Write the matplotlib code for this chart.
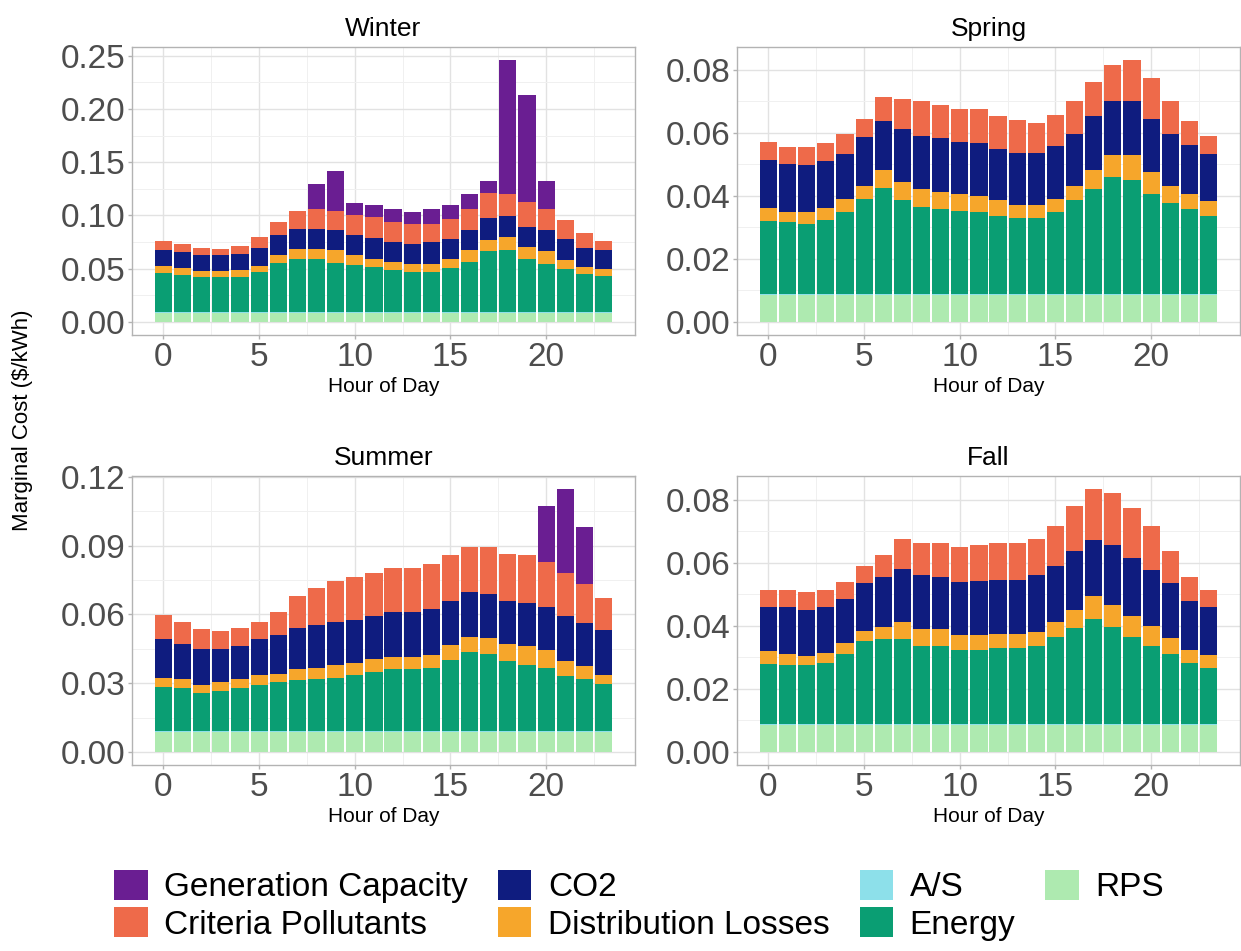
import numpy as np
from matplotlib import pyplot as plt
from matplotlib.patches import Patch
from matplotlib.ticker import MultipleLocator, FormatStrFormatter

plt.rcParams['font.family'] = ['Liberation Sans', 'DejaVu Sans']

hours = np.arange(24)

# marginal cost components ($/kWh), hour 0..23
rps = [0.0085, 0.0085, 0.0085, 0.0085, 0.0085, 0.0085, 0.0085, 0.0085, 0.0085, 0.0085, 0.0085, 0.0085,
       0.0085, 0.0085, 0.0085, 0.0085, 0.0085, 0.0085, 0.0085, 0.0085, 0.0085, 0.0085, 0.0085, 0.0085]
a_s = [0.0004, 0.0004, 0.0004, 0.0004, 0.0004, 0.0004, 0.0004, 0.0004, 0.0004, 0.0004, 0.0004, 0.0004,
       0.0004, 0.0004, 0.0004, 0.0004, 0.0004, 0.0004, 0.0004, 0.0004, 0.0004, 0.0004, 0.0004, 0.0004]
no_cap = [0.0, 0.0, 0.0, 0.0, 0.0, 0.0, 0.0, 0.0, 0.0, 0.0, 0.0, 0.0,
          0.0, 0.0, 0.0, 0.0, 0.0, 0.0, 0.0, 0.0, 0.0, 0.0, 0.0, 0.0]

winter_energy = [0.0368, 0.0352, 0.0336, 0.0331, 0.0331, 0.0384, 0.0466, 0.0504, 0.0504, 0.0466, 0.0447, 0.0425,
                 0.0402, 0.0384, 0.0384, 0.0421, 0.0472, 0.0573, 0.0591, 0.0504, 0.0456, 0.0409, 0.0362, 0.0340]
winter_dist = [0.0066, 0.0064, 0.0057, 0.0060, 0.0065, 0.0056, 0.0069, 0.0094, 0.0094, 0.0125, 0.0094, 0.0079,
               0.0076, 0.0072, 0.0072, 0.0083, 0.0110, 0.0110, 0.0117, 0.0110, 0.0117, 0.0079, 0.0063, 0.0069]
winter_co2 = [0.0157, 0.0151, 0.0148, 0.0150, 0.0151, 0.0168, 0.0189, 0.0189, 0.0189, 0.0180, 0.0183, 0.0197,
              0.0183, 0.0189, 0.0205, 0.0182, 0.0189, 0.0205, 0.0199, 0.0189, 0.0198, 0.0198, 0.0180, 0.0180]
winter_crit = [0.0080, 0.0078, 0.0064, 0.0058, 0.0076, 0.0100, 0.0127, 0.0164, 0.0183, 0.0183, 0.0189, 0.0193,
               0.0190, 0.0189, 0.0173, 0.0189, 0.0205, 0.0230, 0.0205, 0.0236, 0.0205, 0.0180, 0.0141, 0.0078]
winter_cap = [0.0, 0.0, 0.0, 0.0, 0.0, 0.0, 0.0, 0.0, 0.0241, 0.0377, 0.0118, 0.0114,
              0.0119, 0.0111, 0.0136, 0.0133, 0.0135, 0.0113, 0.1259, 0.1008, 0.0255, 0.0, 0.0, 0.0]

spring_energy = [0.0232, 0.0227, 0.0222, 0.0235, 0.0261, 0.0301, 0.0335, 0.0299, 0.0275, 0.0269, 0.0264, 0.0261,
                 0.0248, 0.0241, 0.0241, 0.0261, 0.0296, 0.0333, 0.0370, 0.0362, 0.0315, 0.0288, 0.0269, 0.0248]
spring_dist = [0.0040, 0.0034, 0.0039, 0.0037, 0.0040, 0.0042, 0.0056, 0.0057, 0.0056, 0.0055, 0.0053, 0.0049,
               0.0048, 0.0041, 0.0041, 0.0040, 0.0047, 0.0058, 0.0071, 0.0079, 0.0071, 0.0055, 0.0048, 0.0046]
spring_co2 = [0.0153, 0.0151, 0.0146, 0.0148, 0.0143, 0.0154, 0.0157, 0.0168, 0.0169, 0.0170, 0.0164, 0.0169,
              0.0164, 0.0164, 0.0164, 0.0168, 0.0165, 0.0173, 0.0169, 0.0169, 0.0169, 0.0165, 0.0156, 0.0150]
spring_crit = [0.0056, 0.0053, 0.0058, 0.0059, 0.0064, 0.0058, 0.0076, 0.0093, 0.0110, 0.0104, 0.0104, 0.0106,
               0.0104, 0.0104, 0.0097, 0.0099, 0.0102, 0.0108, 0.0117, 0.0131, 0.0130, 0.0102, 0.0075, 0.0056]

summer_energy = [0.0195, 0.0188, 0.0170, 0.0177, 0.0188, 0.0205, 0.0214, 0.0224, 0.0227, 0.0234, 0.0246, 0.0260,
                 0.0271, 0.0271, 0.0279, 0.0311, 0.0345, 0.0338, 0.0308, 0.0292, 0.0278, 0.0243, 0.0227, 0.0207]
summer_dist = [0.0039, 0.0039, 0.0035, 0.0037, 0.0039, 0.0041, 0.0039, 0.0047, 0.0052, 0.0056, 0.0051, 0.0056,
               0.0055, 0.0055, 0.0057, 0.0066, 0.0068, 0.0071, 0.0073, 0.0081, 0.0077, 0.0065, 0.0060, 0.0039]
summer_co2 = [0.0169, 0.0157, 0.0157, 0.0148, 0.0147, 0.0157, 0.0168, 0.0179, 0.0188, 0.0189, 0.0189, 0.0189,
              0.0197, 0.0197, 0.0197, 0.0194, 0.0197, 0.0191, 0.0190, 0.0189, 0.0189, 0.0197, 0.0187, 0.0195]
summer_crit = [0.0105, 0.0095, 0.0086, 0.0078, 0.0076, 0.0076, 0.0102, 0.0141, 0.0160, 0.0177, 0.0189, 0.0188,
               0.0189, 0.0189, 0.0198, 0.0199, 0.0196, 0.0206, 0.0206, 0.0208, 0.0197, 0.0189, 0.0172, 0.0142]
summer_cap = [0.0, 0.0, 0.0, 0.0, 0.0, 0.0, 0.0, 0.0, 0.0, 0.0, 0.0, 0.0,
              0.0, 0.0, 0.0, 0.0, 0.0, 0.0, 0.0, 0.0, 0.0245, 0.0364, 0.0245, 0.0]

fall_energy = [0.0188, 0.0186, 0.0186, 0.0193, 0.0221, 0.0262, 0.0268, 0.0270, 0.0247, 0.0247, 0.0233, 0.0233,
               0.0239, 0.0239, 0.0246, 0.0274, 0.0304, 0.0332, 0.0307, 0.0274, 0.0247, 0.0221, 0.0193, 0.0178]
fall_dist = [0.0042, 0.0034, 0.0029, 0.0030, 0.0036, 0.0032, 0.0039, 0.0053, 0.0055, 0.0055, 0.0048, 0.0048,
             0.0047, 0.0047, 0.0046, 0.0049, 0.0058, 0.0073, 0.0071, 0.0067, 0.0062, 0.0051, 0.0040, 0.0040]
fall_co2 = [0.0141, 0.0151, 0.0147, 0.0148, 0.0140, 0.0151, 0.0159, 0.0169, 0.0169, 0.0164, 0.0169, 0.0172,
            0.0171, 0.0171, 0.0179, 0.0177, 0.0185, 0.0177, 0.0190, 0.0186, 0.0178, 0.0173, 0.0157, 0.0153]
fall_crit = [0.0053, 0.0053, 0.0056, 0.0053, 0.0053, 0.0055, 0.0069, 0.0095, 0.0103, 0.0108, 0.0111, 0.0113,
             0.0117, 0.0117, 0.0116, 0.0128, 0.0143, 0.0162, 0.0164, 0.0156, 0.0141, 0.0102, 0.0076, 0.0053]

# stacking order, bottom to top
layers = ['RPS', 'A/S', 'Energy', 'Distribution Losses', 'CO2', 'Criteria Pollutants', 'Generation Capacity']
legend_order = ['Generation Capacity', 'Criteria Pollutants', 'CO2', 'Distribution Losses', 'A/S', 'Energy', 'RPS']
colors = {
    'RPS': '#AEEAB0',
    'A/S': '#8DE0EA',
    'Energy': '#0A9E73',
    'Distribution Losses': '#F6A62B',
    'CO2': '#0F1C7F',
    'Criteria Pollutants': '#EE6A4A',
    'Generation Capacity': '#6A1E92',
}

seasons = [
    ('Winter', [132, 335, 288], 0.05, '%.2f',
     [rps, a_s, winter_energy, winter_dist, winter_co2, winter_crit, winter_cap]),
    ('Spring', [737, 335, 288], 0.02, '%.2f',
     [rps, a_s, spring_energy, spring_dist, spring_co2, spring_crit, no_cap]),
    ('Summer', [132, 765, 289], 0.03, '%.2f',
     [rps, a_s, summer_energy, summer_dist, summer_co2, summer_crit, summer_cap]),
    ('Fall', [737, 765, 289], 0.02, '%.2f',
     [rps, a_s, fall_energy, fall_dist, fall_co2, fall_crit, no_cap]),
]

W, H = 1241, 951
fig = plt.figure(figsize=(W / 100, H / 100), dpi=100)

for title, (left, bottom_px, height_px), ystep, fmt, series in seasons:
    ax = fig.add_axes([left / W, 1 - bottom_px / H, 503 / W, height_px / H])
    bottom = np.zeros(len(hours))
    for name, vals in zip(layers, series):
        vals = np.array(vals)
        ax.bar(hours, vals, 0.9, bottom=bottom, color=colors[name], linewidth=0)
        bottom += vals
    top = bottom.max()
    ax.set_xlim(-1.645, 24.645)
    ax.set_ylim(-0.05 * top, 1.05 * top)
    ax.xaxis.set_major_locator(MultipleLocator(5))
    ax.xaxis.set_minor_locator(MultipleLocator(2.5))
    ax.yaxis.set_major_locator(MultipleLocator(ystep))
    ax.yaxis.set_minor_locator(MultipleLocator(ystep / 2))
    ax.yaxis.set_major_formatter(FormatStrFormatter(fmt))
    ax.grid(which='major', color='#E2E2E2', linewidth=1.0)
    ax.grid(which='minor', color='#F0F0F0', linewidth=0.7)
    ax.set_axisbelow(True)
    for sp in ax.spines.values():
        sp.set_color('#B3B3B3')
        sp.set_linewidth(1.0)
    ax.tick_params(which='major', length=3, width=1, color='#B3B3B3',
                   labelsize=24, labelcolor='#4D4D4D', pad=2)
    ax.tick_params(which='minor', length=0)
    ax.set_title(title, fontsize=19, pad=8)
    ax.set_xlabel('Hour of Day', fontsize=15, labelpad=3)

fig.text(0.018, 1 - 420 / H, 'Marginal Cost ($/kWh)', rotation=90,
         ha='center', va='center', fontsize=16)

handles = [Patch(facecolor=colors[n], edgecolor='none') for n in legend_order]
fig.legend(handles, legend_order, loc='center', bbox_to_anchor=(0.515, 0.048), ncol=4,
           frameon=False, fontsize=24, handlelength=1.0, handleheight=1.0,
           handletextpad=0.5, columnspacing=0.9, labelspacing=0.12)

fig.savefig('out.png', dpi=100)
